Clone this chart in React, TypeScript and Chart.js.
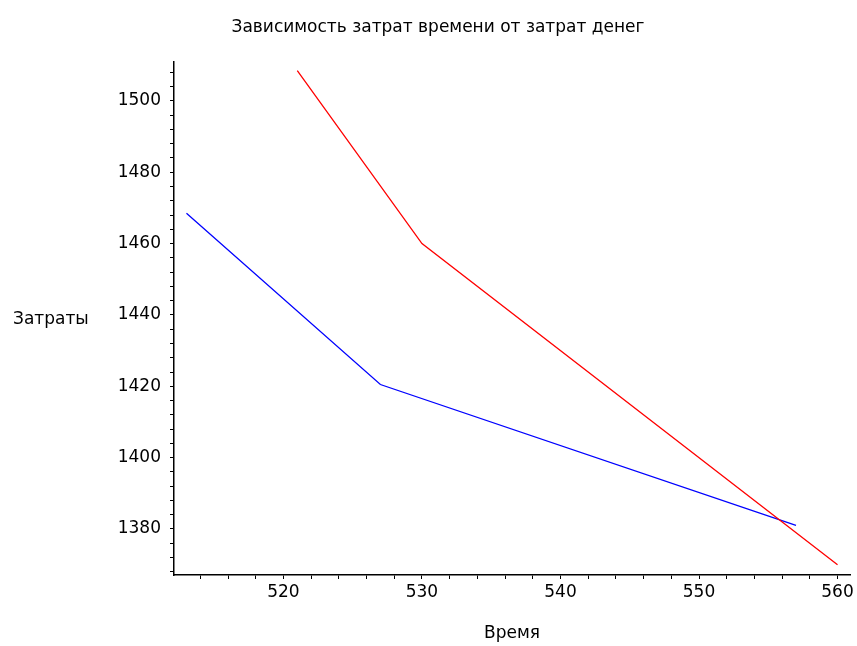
import React, { useEffect, useRef } from "react";
import { Chart, registerables } from "chart.js";

Chart.register(...registerables);

const titleText = "Зависимость затрат времени от затрат денег";
const xTitle = "Время";
const yTitle = "Затраты";

const redX = [521, 530, 560];
const redY = [1508.5, 1460, 1370];
const blueX = [513, 527, 557];
const blueY = [1468.5, 1420.5, 1381];

const xMin = 512.1;
const xMax = 560.9;
const yMin = 1367.1;
const yMax = 1510.9;
const xStep = 2;
const yStep = 4;
const xLabelEvery = 10;
const yLabelEvery = 20;

const FONT = "'DejaVu Sans', sans-serif";

const textPlugin = {
  id: "customText",
  afterDraw(chart: any) {
    const ctx = chart.ctx;
    const area = chart.chartArea;
    ctx.save();
    ctx.fillStyle = "#000";
    ctx.font = `17px ${FONT}`;
    ctx.textBaseline = "middle";
    ctx.textAlign = "center";
    ctx.fillText(titleText, 438, 28);
    ctx.font = `17px ${FONT}`;
    ctx.fillText(xTitle, (area.left + area.right) / 2, 634);
    ctx.textAlign = "left";
    ctx.fillText(yTitle, 13, (area.top + area.bottom) / 2 + 1);
    ctx.restore();
  },
};

export default function App() {
  const canvasRef = useRef<HTMLCanvasElement | null>(null);

  useEffect(() => {
    if (!canvasRef.current) return;
    const chart = new Chart(canvasRef.current, {
      type: "scatter",
      data: {
        datasets: [
          {
            label: "red",
            data: redX.map((x, i) => ({ x, y: redY[i] })),
            showLine: true,
            borderColor: "#ff0000",
            borderWidth: 1.3,
            pointRadius: 0,
            tension: 0,
          },
          {
            label: "blue",
            data: blueX.map((x, i) => ({ x, y: blueY[i] })),
            showLine: true,
            borderColor: "#0000ff",
            borderWidth: 1.3,
            pointRadius: 0,
            tension: 0,
          },
        ],
      },
      options: {
        responsive: false,
        animation: false,
        layout: { padding: { top: 62, left: 0, right: 7, bottom: 0 } },
        plugins: {
          legend: { display: false },
          tooltip: { enabled: false },
          title: { display: false },
        },
        scales: {
          x: {
            type: "linear",
            position: "bottom",
            min: xMin,
            max: xMax,
            afterFit(s: any) {
              s.height = 71;
              s.paddingLeft = 0;
              s.paddingRight = 0;
            },
            ticks: {
              stepSize: xStep,
              includeBounds: false,
              autoSkip: false,
              maxRotation: 0,
              padding: 3,
              color: "#000",
              font: { family: FONT, size: 17 },
              callback: (v: any) =>
                Math.abs(Number(v) % xLabelEvery) < 1e-6 ? String(Math.round(Number(v))) : "",
            },
            grid: {
              drawOnChartArea: false,
              drawTicks: true,
              tickLength: 4,
              color: "#000",
              lineWidth: 1,
            },
            border: { display: true, color: "#000", width: 1.5 },
          },
          y: {
            type: "linear",
            min: yMin,
            max: yMax,
            afterFit(s: any) {
              s.width = 174;
              s.paddingTop = 0;
              s.paddingBottom = 0;
            },
            ticks: {
              stepSize: yStep,
              includeBounds: false,
              autoSkip: false,
              padding: 9,
              color: "#000",
              font: { family: FONT, size: 17 },
              callback: (v: any) =>
                Math.abs(Number(v) % yLabelEvery) < 1e-6 ? String(Math.round(Number(v))) : "",
            },
            grid: {
              drawOnChartArea: false,
              drawTicks: true,
              tickLength: 4,
              color: "#000",
              lineWidth: 1,
            },
            border: { display: true, color: "#000", width: 1.5 },
          },
        },
      },
      plugins: [textPlugin],
    });
    return () => chart.destroy();
  }, []);

  return (
    <div style={{ position: "fixed", left: 0, top: 0, width: 857, height: 646, background: "#fff" }}>
      <canvas ref={canvasRef} width={857} height={646} style={{ width: 857, height: 646, display: "block" }} />
    </div>
  );
}
